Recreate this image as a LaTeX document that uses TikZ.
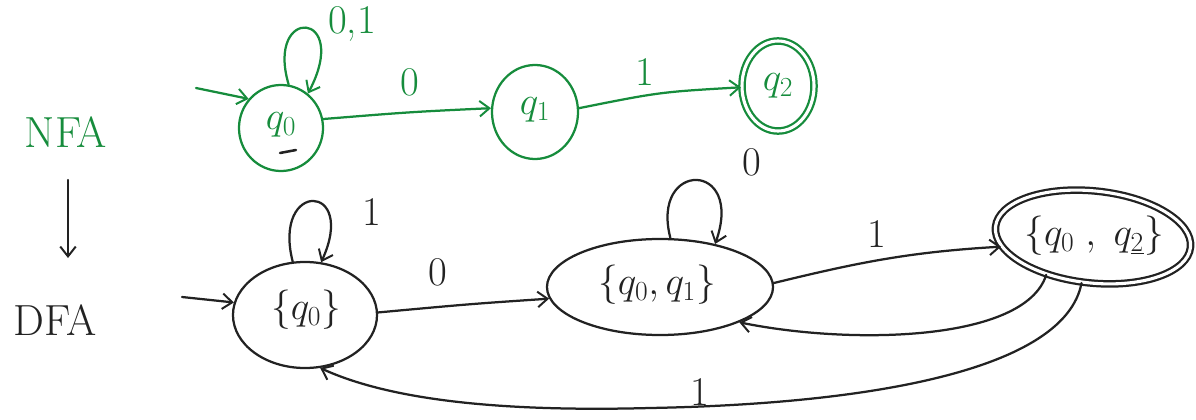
\RequirePackage{fix-cm}
\documentclass[tikz,border=0pt]{standalone}
\usetikzlibrary{shapes.geometric,arrows.meta}
\definecolor{nfagreen}{RGB}{22,140,60}
\definecolor{ink}{RGB}{34,34,34}
\begin{document}
\begin{tikzpicture}[x=0.025cm,y=-0.025cm,
  line width=1.6pt,
  every path/.style={line cap=round,line join=round},
  arr/.style={-{Straight Barb[length=7pt,width=11pt,line width=1.4pt]}},
  st/.style={draw,ellipse,inner sep=0pt},
  acc/.style={st,double,double distance=2.2pt},
  lab/.style={font=\fontsize{29}{33}\selectfont,inner sep=1pt},
  slab/.style={font=\fontsize{28}{32}\selectfont,inner sep=1pt},
  big/.style={font=\fontsize{31}{35}\selectfont,inner sep=1pt}]
\useasboundingbox (0,0) rectangle (1196,420);

% ---------- NFA (green) ----------
\begin{scope}[color=nfagreen]
\node[st,minimum width=2.1cm,minimum height=2.15cm] (q0) at (281,128) {};
\node[slab] (q0t) at (281,125) {$q_0$};
\node[st,minimum width=2.15cm,minimum height=2.35cm] (q1) at (535,112) {};
\node[slab] (q1t) at (535,110) {$q_1$};
\node[acc,minimum width=1.8cm,minimum height=2.25cm] (q2) at (778,86) {};
\node[slab] (q2t) at (778,86) {$q_2$};

\node[big] (nfa) at (66,132) {NFA};

\coordinate (iq0) at (196,88);
\draw[arr] (iq0) .. controls (225,94) .. (q0.138);
\draw[arr] (q0.80) .. controls (265,5) and (352,10) .. (q0.52);
\node[lab] (l01) at (352,24) {0,1};
\draw[arr] (q0.12) .. controls (410,112) .. (q1.175);
\node[lab] (l0a) at (410,82) {0};
\draw[arr] (q1.5) .. controls (660,92) .. (q2.182);
\node[lab] (l1a) at (645,72) {1};
\end{scope}
\draw[ink,line width=1.8pt] (280,153) -- (296,150);

% ---------- NFA -> DFA ----------
\coordinate (ar1) at (68,180);
\coordinate (ar2) at (68,258);
\draw[ink,arr] (ar1) -- (ar2);
\node[big,ink] (dfa) at (55,320) {DFA};

% ---------- DFA (black) ----------
\begin{scope}[color=ink]
\node[st,minimum width=3.6cm,minimum height=2.65cm] (D0) at (305,315) {};
\node[slab] (D0t) at (306,310) {$\{q_0\}$};
\node[st,minimum width=5.65cm,minimum height=2.4cm] (D1) at (660,287) {};
\node[slab] (D1t) at (657,285) {$\{q_0,q_1\}$};
\node[acc,minimum width=4.9cm,minimum height=2.3cm,rotate=-6] (D2) at (1093,237) {};
\node[slab] (D2t) at (1094,236) {$\{q_0\;,\;q_{\underline{2}}\}$};

\coordinate (iD0) at (182,297);
\draw[arr] (iD0) -- (D0.170);
\draw[arr] (D0.103) .. controls (272,180) and (358,182) .. (D0.73);
\node[lab] (l1b) at (372,212) {1};
\draw[arr] (D0.2) .. controls (470,304) .. (D1.186);
\node[lab] (l0b) at (438,272) {0};
\draw[arr] (D1.78) .. controls (650,160) and (745,160) .. (D1.38);
\node[lab] (l0c) at (752,162) {0};
\draw[arr] (D1.2) .. controls (860,262) and (910,252) .. (D2.192);
\node[lab] (l1c) at (877,234) {1};
\draw[arr] (D2.225) .. controls (1025,342) and (850,345) .. (D1.336);
\draw[arr] (D2.262) .. controls (1065,370) and (870,404) .. (650,408)
   .. controls (500,412) and (390,400) .. (D0.286);
\node[lab] (l1d) at (700,392) {1};
\end{scope}
\end{tikzpicture}
\end{document}
